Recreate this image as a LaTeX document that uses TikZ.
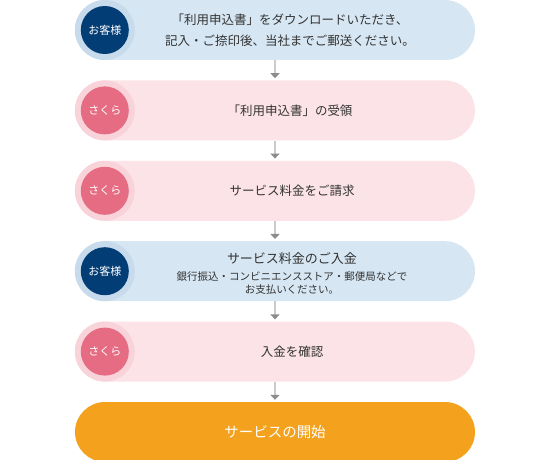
\documentclass[tikz,border=0pt]{standalone}
\usepackage{fontspec}
\setmainfont{Noto Sans CJK JP}
\usetikzlibrary{positioning,arrows.meta}
\definecolor{kyakuback}{HTML}{D6E6F2}
\definecolor{kyakuedge}{HTML}{C8DBEC}
\definecolor{kyakudot}{HTML}{033D76}
\definecolor{sakuraback}{HTML}{FCE3E7}
\definecolor{sakuraedge}{HTML}{F8D3DA}
\definecolor{sakuradot}{HTML}{E56C82}
\definecolor{startback}{HTML}{F4A21D}
\definecolor{flowgray}{HTML}{CBCBCB}
\definecolor{headgray}{HTML}{8C8C8C}
\definecolor{textgray}{HTML}{333333}
\newcommand{\capof}[1]{([xshift=30pt]#1.west)}

\begin{document}
\begin{tikzpicture}[x=1pt,y=-1pt]
                        \tikzstyle{stepbox}=[rectangle, rounded corners=30pt, minimum width=400pt, minimum height=60pt, inner sep=0pt]
                        \tikzstyle{kyaku}=[stepbox, fill=kyakuback]
                        \tikzstyle{sakura}=[stepbox, fill=sakuraback]
                        \tikzstyle{start}=[stepbox, fill=startback]
                        \tikzstyle{who}=[circle, minimum size=48pt, inner sep=0pt, text=white, font=\fontsize{11}{11}\selectfont]
                        \tikzstyle{say}=[align=center, text=textgray, font=\fontsize{12.5}{21}\selectfont]
                        \tikzstyle{flow}=[draw=flowgray, line width=2pt, shorten >=2pt, -{Triangle[width=9pt,length=5pt,color=headgray]}]
                        \useasboundingbox (0,0) rectangle (550,460);
                        \node[kyaku] (s1) at (275,30) {};
                        \node[sakura, below=20pt of s1] (s2) {};
                        \node[sakura, below=20pt of s2] (s3) {};
                        \node[kyaku, below=20pt of s3] (s4) {};
                        \node[sakura, below=20pt of s4] (s5) {};
                        \node[start, below=20pt of s5] (s6) {};
                        \fill[kyakuedge] \capof{s1} circle (30pt);
                        \fill[sakuraedge] \capof{s2} circle (30pt);
                        \fill[sakuraedge] \capof{s3} circle (30pt);
                        \fill[kyakuedge] \capof{s4} circle (30pt);
                        \fill[sakuraedge] \capof{s5} circle (30pt);
                        \node[who, fill=kyakudot] (w1) at \capof{s1} {お客様};
                        \node[who, fill=sakuradot] (w2) at \capof{s2} {さくら};
                        \node[who, fill=sakuradot] (w3) at \capof{s3} {さくら};
                        \node[who, fill=kyakudot] (w4) at \capof{s4} {お客様};
                        \node[who, fill=sakuradot] (w5) at \capof{s5} {さくら};
                        \node[say] (t1) at ([xshift=15pt]s1.center) {「利用申込書」をダウンロードいただき、\\記入・ご捺印後、当社までご郵送ください。};
                        \node[say] (t2) at ([xshift=15pt]s2.center) {「利用申込書」の受領};
                        \node[say] (t3) at ([xshift=17pt]s3.center) {サービス料金をご請求};
                        \node[say] (t4) at ([xshift=17pt,yshift=-2pt]s4.center) {{\fontsize{13}{18}\selectfont サービス料金のご入金}\\[-4pt]
                            {\fontsize{10.5}{14}\selectfont 銀行振込・コンビニエンスストア・郵便局などで}\\[-8pt]
                            {\fontsize{10.5}{14}\selectfont お支払いください。}};
                        \node[say] (t5) at ([xshift=17pt]s5.center) {入金を確認};
                        \node[say, text=white, font=\fontsize{14.5}{16}\selectfont] (t6) at (s6.center) {サービスの開始};
                        \draw[flow] (s1) -- (s2);
                        \draw[flow] (s2) -- (s3);
                        \draw[flow] (s3) -- (s4);
                        \draw[flow] (s4) -- (s5);
                        \draw[flow] (s5) -- (s6);
\end{tikzpicture}
\end{document}
